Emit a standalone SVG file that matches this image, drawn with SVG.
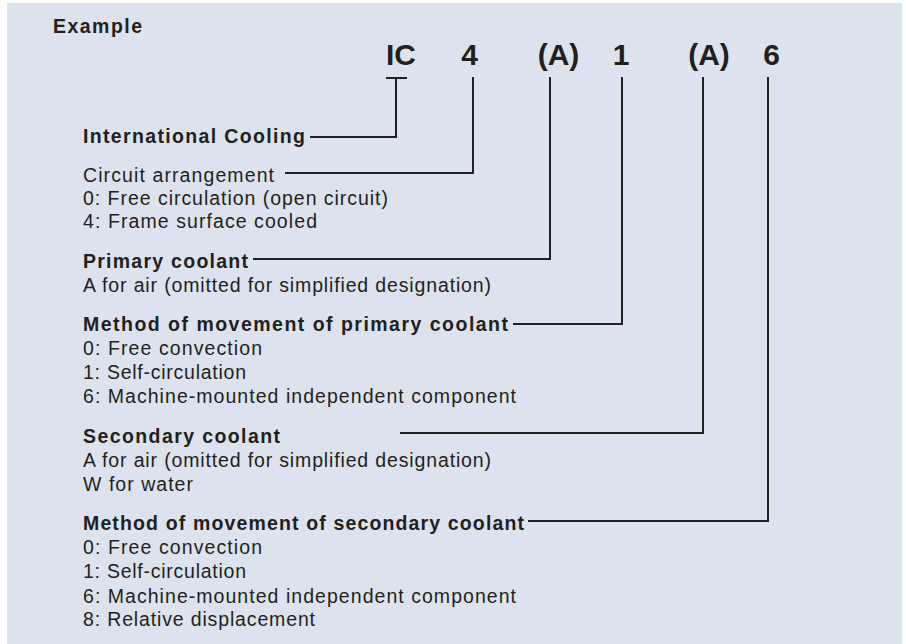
<svg xmlns="http://www.w3.org/2000/svg" width="906" height="644" viewBox="0 0 906 644">
<style>
.t{font-family:"Liberation Sans",Arial,Helvetica,sans-serif;font-size:19.5px;fill:#231f20}
.b{font-weight:bold}
.code{font-family:"Liberation Sans",Arial,Helvetica,sans-serif;font-size:30px;font-weight:bold;fill:#231f20;text-anchor:middle}
.c{fill:none;stroke:#231f20;stroke-width:2}
</style>
<rect x="0" y="0" width="906" height="644" fill="#ffffff"/>
<rect x="7" y="3" width="895" height="641" fill="#dce3ee"/>
<text class="t b" x="53" y="33" font-size="20" textLength="89">Example</text>
<g id="codes">
<text class="code" x="401" y="65">IC</text>
<text class="code" x="469.5" y="65">4</text>
<text class="code" x="558.5" y="65">(A)</text>
<text class="code" x="621" y="65">1</text>
<text class="code" x="709" y="65">(A)</text>
<text class="code" x="771.5" y="65">6</text>
</g>
<g id="connectors">
<path class="c" d="M386 78H407M396 78V137H310"/>
<path class="c" d="M473 77V173H285"/>
<path class="c" d="M550 77V259H253"/>
<path class="c" d="M622 77V324H513"/>
<path class="c" d="M703 77V433H400"/>
<path class="c" d="M768 77V521H528"/>
</g>
<g id="n-ic">
<text class="t b" x="83" y="143" textLength="222">International Cooling</text>
</g>
<g id="n-circuit">
<text class="t" x="83" y="182" textLength="191">Circuit arrangement</text>
<text class="t" x="83" y="205" textLength="305">0: Free circulation (open circuit)</text>
<text class="t" x="83" y="228" textLength="234">4: Frame surface cooled</text>
</g>
<g id="n-primary">
<text class="t b" x="83" y="268" textLength="165">Primary coolant</text>
<text class="t" x="83" y="292" textLength="408">A for air (omitted for simplified designation)</text>
</g>
<g id="n-method-primary">
<text class="t b" x="83" y="331" textLength="425">Method of movement of primary coolant</text>
<text class="t" x="83" y="355" textLength="179">0: Free convection</text>
<text class="t" x="83" y="379" textLength="163">1: Self-circulation</text>
<text class="t" x="83" y="403" textLength="433">6: Machine-mounted independent component</text>
</g>
<g id="n-secondary">
<text class="t b" x="83" y="443" textLength="197">Secondary coolant</text>
<text class="t" x="83" y="467" textLength="408">A for air (omitted for simplified designation)</text>
<text class="t" x="83" y="491" textLength="110">W for water</text>
</g>
<g id="n-method-secondary">
<text class="t b" x="83" y="530" textLength="441">Method of movement of secondary coolant</text>
<text class="t" x="83" y="554" textLength="179">0: Free convection</text>
<text class="t" x="83" y="578" textLength="163">1: Self-circulation</text>
<text class="t" x="83" y="603" textLength="433">6: Machine-mounted independent component</text>
<text class="t" x="83" y="626" textLength="232">8: Relative displacement</text>
</g>
</svg>
